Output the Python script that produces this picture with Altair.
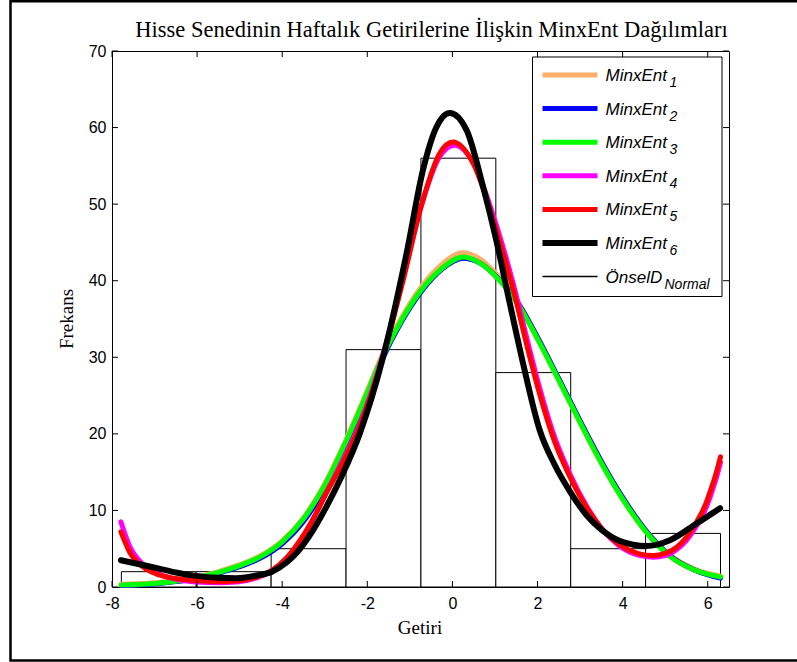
import altair as alt
import pandas as pd

# Histogram of weekly returns (bin edges and counts)
bin_edges = [-7.78, -6.02, -4.26, -2.50, -0.74, 1.02, 2.78, 4.54, 6.30]
bin_counts = [2, 2, 5, 31, 56, 28, 5, 7]

# MinxEnt 1-3 curves (nearly coincident bell shapes)
x_me123 = [-7.78, -7.0, -6.5, -6.0, -5.5, -5.0, -4.5, -4.0, -3.5, -3.0,
           -2.5, -2.0, -1.65, -1.2, -0.73, -0.25, 0.25, 0.65, 1.03, 1.58,
           2.0, 2.5, 3.0, 3.5, 4.0, 4.55, 5.11, 5.7, 6.3]
y_me1 = [0.3, 0.5, 0.8, 1.25, 1.95, 2.85, 4.05, 5.95, 8.95, 13.35,
         19.1, 25.5, 30.15, 35.0, 39.1, 42.05, 43.6, 42.75, 40.8, 36.75,
         32.55, 27.1, 21.6, 16.3, 11.6, 7.3, 4.1, 2.25, 1.35]
y_me2 = [0.2, 0.4, 0.7, 1.12, 1.8, 2.65, 3.8, 5.65, 8.55, 12.9,
         18.6, 25.0, 29.7, 34.6, 38.6, 41.5, 42.95, 42.3, 40.55, 36.75,
         32.6, 27.2, 21.7, 16.4, 11.7, 7.35, 4.1, 2.2, 1.15]
y_me3 = [0.25, 0.45, 0.75, 1.2, 1.9, 2.8, 4.0, 5.9, 8.9, 13.3,
         19.0, 25.4, 30.0, 34.8, 38.8, 41.6, 43.1, 42.3, 40.5, 36.6,
         32.4, 27.0, 21.5, 16.2, 11.5, 7.2, 4.0, 2.2, 1.3]

# MinxEnt 4-5 curves (peaked, with rising tails)
x_me4 = [-7.79, -7.59, -7.28, -6.89, -6.5, -6.02, -5.5, -5.08, -4.6, -4.24,
         -3.9, -3.67, -3.3, -2.96, -2.6, -2.18, -1.63, -1.16, -0.73, -0.3,
         0.05, 0.49, 1.03, 1.43, 1.82, 2.05, 2.4, 2.76, 3.15, 3.5,
         3.94, 4.35, 4.72, 5.0, 5.27, 5.5, 5.74, 5.95, 6.09, 6.2, 6.3]
y_me4 = [8.5, 5.4, 3.0, 1.7, 1.0, 0.65, 0.55, 0.65, 1.2, 2.1,
         3.7, 5.3, 8.6, 12.4, 16.3, 21.3, 30.4, 40.3, 49.8, 56.2,
         57.7, 55.4, 47.3, 39.6, 30.9, 26.0, 19.6, 14.8, 10.6, 7.7,
         5.3, 4.2, 3.9, 4.1, 4.9, 6.1, 8.0, 10.2, 12.3, 14.2, 16.3]
x_me5 = [-7.79, -7.59, -7.28, -6.89, -6.5, -6.02, -5.5, -5.08, -4.6, -4.24,
         -3.9, -3.67, -3.3, -2.96, -2.6, -2.18, -1.63, -1.16, -0.73, -0.3,
         0.01, 0.49, 1.03, 1.43, 1.82, 2.05, 2.4, 2.76, 3.15, 3.5,
         3.94, 4.35, 4.72, 5.0, 5.27, 5.5, 5.74, 5.95, 6.09, 6.2, 6.3]
y_me5 = [7.2, 4.6, 2.65, 1.57, 1.1, 0.8, 0.7, 0.78, 1.3, 2.2,
         3.8, 5.4, 8.6, 12.3, 16.0, 21.0, 30.1, 40.0, 49.8, 56.6,
         58.1, 55.3, 46.6, 38.8, 30.0, 25.2, 19.0, 14.4, 10.4, 7.7,
         5.5, 4.4, 4.1, 4.4, 5.2, 6.5, 8.5, 10.8, 13.0, 14.9, 17.0]

# MinxEnt 6 curve
x_me6 = [-7.79, -7.3, -6.89, -6.5, -6.02, -5.5, -5.08, -4.6, -4.24, -3.9,
         -3.67, -3.3, -2.96, -2.6, -2.18, -1.63, -1.08, -0.69, -0.38, -0.06,
         0.33, 0.72, 1.03, 1.35, 1.66, 2.05, 2.4, 2.76, 3.15, 3.5,
         3.94, 4.56, 5.11, 5.74, 6.29]
y_me6 = [3.5, 2.9, 2.4, 1.9, 1.45, 1.2, 1.15, 1.5, 2.0, 3.2,
         4.4, 7.2, 10.5, 14.5, 20.0, 30.0, 43.5, 54.5, 60.0, 61.9,
         59.7, 52.3, 45.3, 37.0, 29.2, 20.5, 16.0, 12.5, 9.4, 7.5,
         6.0, 5.35, 6.1, 8.3, 10.3]

x_ticks = [-8, -6, -4, -2, 0, 2, 4, 6]
y_ticks = [0, 10, 20, 30, 40, 50, 60, 70]

title_text = "Hisse Senedinin Haftalık Getirilerine İlişkin MinxEnt Dağılımları"
x_title = "Getiri"
y_title = "Frekans"

series = [
    ("MinxEnt", "1", x_me123, y_me1, "#FDAE6B", 6),
    ("MinxEnt", "2", x_me123, y_me2, "#0000FF", 5),
    ("MinxEnt", "3", x_me123, y_me3, "#00FF00", 5),
    ("MinxEnt", "4", x_me4, y_me4, "#FF00FF", 5),
    ("MinxEnt", "5", x_me5, y_me5, "#FF0000", 5),
    ("MinxEnt", "6", x_me6, y_me6, "#000000", 6),
]

W, H = 617, 536
SANS = "Liberation Sans"
SERIF = "Liberation Serif"

# plain hyphen for negative tick labels
neg_label = "datum.value < 0 ? '-' + abs(datum.value) : '' + datum.value"

xscale = alt.Scale(domain=[-8, 6.5], nice=False, zero=False)
yscale = alt.Scale(domain=[0, 70], nice=False)
x_axis = alt.Axis(values=x_ticks, title=None, grid=False, ticks=False, domain=False,
                  labelFont=SANS, labelFontSize=16, labelColor="black", labelPadding=8,
                  labelFlush=False, labelExpr=neg_label)
y_axis = alt.Axis(values=y_ticks, title=None, grid=False, ticks=False, domain=False,
                  labelFont=SANS, labelFontSize=16, labelColor="black", labelPadding=6,
                  labelFlush=False)

one = pd.DataFrame({"k": [0]})

# histogram bars
hist_df = pd.DataFrame({"x0": bin_edges[:-1], "x1": bin_edges[1:], "count": bin_counts})
hist = alt.Chart(hist_df).mark_rect(fill="white", stroke="black", strokeWidth=1).encode(
    x=alt.X("x0:Q", scale=xscale, axis=x_axis),
    x2="x1:Q",
    y=alt.Y("count:Q", scale=yscale, axis=y_axis),
    y2=alt.datum(0),
)

layers = [hist]

# fitted curves
for name, sub, xs, ys, color, width in series:
    df = pd.DataFrame({"x": xs, "y": ys})
    layers.append(
        alt.Chart(df).mark_line(color=color, strokeWidth=width, interpolate="monotone",
                                strokeCap="round", strokeJoin="round").encode(
            x=alt.X("x:Q", scale=xscale, axis=x_axis),
            y=alt.Y("y:Q", scale=yscale, axis=y_axis),
        )
    )

# inward tick marks on all four sides
TL = 6
xt = pd.DataFrame({"t": x_ticks})
yt = pd.DataFrame({"t": y_ticks})
for ya, yb in [(H, H - TL), (0, TL)]:
    layers.append(alt.Chart(xt).mark_rule(color="black", strokeWidth=1).encode(
        x=alt.X("t:Q", scale=xscale, axis=x_axis), y=alt.value(ya), y2=alt.value(yb)))
for xa, xb in [(0, TL), (W, W - TL)]:
    layers.append(alt.Chart(yt).mark_rule(color="black", strokeWidth=1).encode(
        y=alt.Y("t:Q", scale=yscale, axis=y_axis), x=alt.value(xa), x2=alt.value(xb)))

# legend box
LX0, LX1, LY0, LY1 = 420.5, 610, 6, 245.5
layers.append(alt.Chart(one).mark_rect(fill="white", stroke="black", strokeWidth=1).encode(
    x=alt.value(LX0), x2=alt.value(LX1), y=alt.value(LY0), y2=alt.value(LY1)))

legend_rows = [(n, s, c, min(w, 6)) for n, s, _, _, c, w in series]
legend_rows[0] = ("MinxEnt", "1", "#FDAE6B", 5)
legend_rows.append(("ÖnselD", "Normal", "#000000", 1.5))
row0, step = 24, 33.6
for i, (name, sub, color, width) in enumerate(legend_rows):
    ry = row0 + i * step
    layers.append(alt.Chart(one).mark_rule(color=color, strokeWidth=width).encode(
        x=alt.value(430.5), x2=alt.value(485.5), y=alt.value(ry), y2=alt.value(ry)))
    layers.append(alt.Chart(pd.DataFrame({"t": [name]})).mark_text(
        font=SANS, fontSize=17, fontStyle="italic", align="left", baseline="alphabetic",
        color="black").encode(text="t:N", x=alt.value(493.5), y=alt.value(ry + 6)))
    sub_dx = 64 if name == "MinxEnt" else 59
    layers.append(alt.Chart(pd.DataFrame({"t": [sub]})).mark_text(
        font=SANS, fontSize=14, fontStyle="italic", align="left", baseline="alphabetic",
        color="black").encode(text="t:N", x=alt.value(493.5 + sub_dx), y=alt.value(ry + 12)))

# titles
layers.append(alt.Chart(pd.DataFrame({"t": [title_text]})).mark_text(
    font=SERIF, fontSize=22.5, align="center", baseline="alphabetic", color="black").encode(
    text="t:N", x=alt.value(319.5), y=alt.value(-14)))
layers.append(alt.Chart(pd.DataFrame({"t": [x_title]})).mark_text(
    font=SERIF, fontSize=19, align="center", baseline="middle", color="black").encode(
    text="t:N", x=alt.value(308), y=alt.value(577)))
layers.append(alt.Chart(pd.DataFrame({"t": [y_title]})).mark_text(
    font=SERIF, fontSize=19, align="center", baseline="middle", color="black", angle=270).encode(
    text="t:N", x=alt.value(-45), y=alt.value(268)))

# outer figure frame
layers.append(alt.Chart(one).mark_rect(filled=False, stroke="black", strokeWidth=2.5).encode(
    x=alt.value(-101.5), x2=alt.value(720), y=alt.value(-49.7), y2=alt.value(609.5)))

chart = alt.layer(*layers).properties(
    width=W, height=H,
    padding={"left": 112, "top": 51, "right": 68, "bottom": 75},
    autosize=alt.AutoSizeParams(type="none"),
    background="white",
).configure_view(stroke="black", strokeWidth=1)

chart.save("out.html", embed_options={"renderer": "svg", "actions": False})
